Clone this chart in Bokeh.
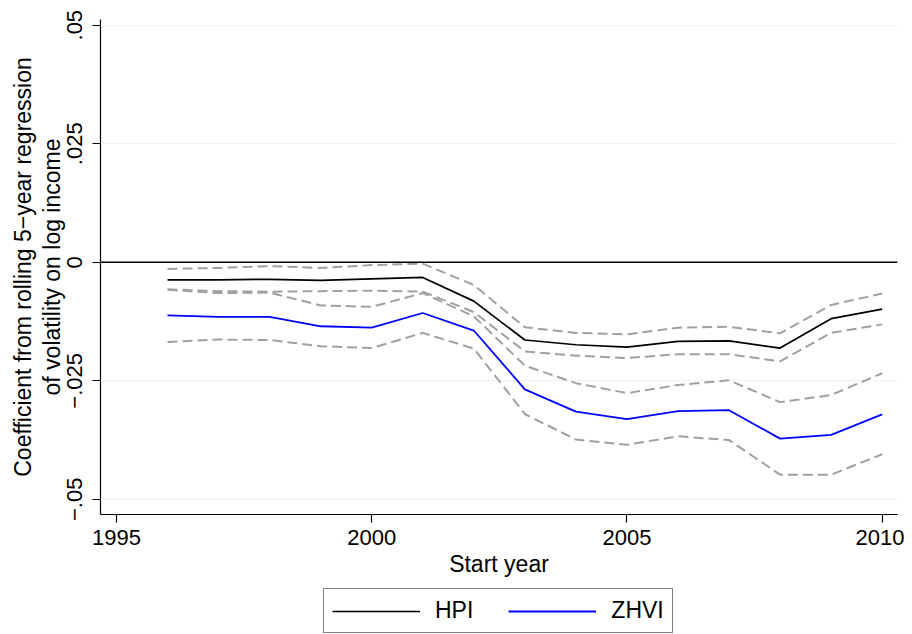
from bokeh.plotting import figure
from bokeh.layouts import column
from bokeh.models import (Range1d, FixedTicker, Span, Legend, LegendItem, ColumnDataSource)
from bokeh.embed import file_html
from bokeh.resources import INLINE

# ---- data ----
years = [1996, 1997, 1998, 1999, 2000, 2001, 2002, 2003, 2004, 2005, 2006, 2007, 2008, 2009, 2010]
hpi = [-0.0037, -0.0037, -0.0036, -0.0038, -0.0035, -0.0032, -0.0082, -0.0164, -0.0174, -0.0179,
       -0.0167, -0.0166, -0.0181, -0.0119, -0.0099]
hpi_hi = [-0.0014, -0.0012, -0.0008, -0.0012, -0.0006, -0.0003, -0.0048, -0.0137, -0.0149, -0.0152,
          -0.0138, -0.0136, -0.0150, -0.0090, -0.0066]
hpi_lo = [-0.0057, -0.0061, -0.0062, -0.0061, -0.0060, -0.0062, -0.0105, -0.0188, -0.0197, -0.0202,
          -0.0194, -0.0194, -0.0209, -0.0149, -0.0131]
zhvi = [-0.0112, -0.0115, -0.0115, -0.0135, -0.0138, -0.0107, -0.0144, -0.0268, -0.0315, -0.0331,
        -0.0314, -0.0312, -0.0372, -0.0364, -0.0321]
zhvi_hi = [-0.0058, -0.0065, -0.0064, -0.0091, -0.0094, -0.0065, -0.0114, -0.0218, -0.0255, -0.0276,
           -0.0259, -0.0249, -0.0295, -0.0280, -0.0234]
zhvi_lo = [-0.0168, -0.0163, -0.0164, -0.0177, -0.0181, -0.0149, -0.0182, -0.0320, -0.0374, -0.0385,
           -0.0367, -0.0375, -0.0448, -0.0448, -0.0405]

x_ticks = [1995, 2000, 2005, 2010]
y_ticks = [-0.05, -0.025, 0.0, 0.025, 0.05]
y_tick_labels = ["\u2212.05", "\u2212.025", "0", ".025", ".05"]
series_names = ["HPI", "ZHVI"]
x_title = "Start year"
y_title = "Coefficient from rolling 5\u2212year regression\nof volatility on log income"

FONT = "Liberation Sans"
HPI_COLOR, ZHVI_COLOR = "black", "#0000ff"

p = figure(width=904, height=584, output_backend="svg", toolbar_location=None,
           x_range=Range1d(1994.687, 2010.30), y_range=Range1d(-0.0532, 0.0512),
           min_border_left=100, min_border_right=7, min_border_top=19, min_border_bottom=70)
p.outline_line_color = None
p.background_fill_color = "white"
p.border_fill_color = "white"

# grid
p.xgrid.grid_line_color = None
p.ygrid.grid_line_color = "#eaf2f3"
p.ygrid.grid_line_width = 1.2

# axes
p.xaxis.ticker = FixedTicker(ticks=x_ticks)
p.yaxis.ticker = FixedTicker(ticks=y_ticks)
p.yaxis.major_label_overrides = {t: l for t, l in zip(y_ticks, y_tick_labels)}
p.xaxis.major_label_overrides = {t: str(t) for t in x_ticks}
for ax in (p.xaxis, p.yaxis):
    ax.axis_line_color = "black"
    ax.axis_line_width = 1.2
    ax.major_tick_line_color = "black"
    ax.major_tick_line_width = 1.2
    ax.major_tick_out = 8
    ax.major_tick_in = 0
    ax.minor_tick_line_color = None
    ax.major_label_text_font = FONT
    ax.major_label_text_font_size = "22px"
    ax.major_label_text_color = "black"
    ax.axis_label_text_font = FONT
    ax.axis_label_text_font_size = "23px"
    ax.axis_label_text_font_style = "normal"
    ax.axis_label_text_color = "black"
p.xaxis.major_label_standoff = 7
p.xaxis.axis_label_standoff = 3
p.yaxis.major_label_orientation = "vertical"
p.yaxis.major_label_standoff = 10
p.yaxis.axis_label_standoff = 0
p.yaxis.axis_label_text_line_height = 1.1
p.xaxis.axis_label = x_title
p.yaxis.axis_label = y_title

# zero line
p.add_layout(Span(location=0, dimension="width", line_color="black", line_width=1.6))

src = ColumnDataSource(dict(x=years, hpi=hpi, hpi_hi=hpi_hi, hpi_lo=hpi_lo,
                            zhvi=zhvi, zhvi_hi=zhvi_hi, zhvi_lo=zhvi_lo))

dash_kw = dict(line_color="#a0a0a0", line_width=2, line_dash="10 5")
for col in ("hpi_hi", "hpi_lo", "zhvi_hi", "zhvi_lo"):
    p.line("x", col, source=src, **dash_kw)

p.line("x", "hpi", source=src, line_color=HPI_COLOR, line_width=1.7)
p.line("x", "zhvi", source=src, line_color=ZHVI_COLOR, line_width=1.8)

# ---- legend strip below the chart (its lines lie outside the strip's ranges) ----
q = figure(width=904, height=50, output_backend="svg", toolbar_location=None,
           x_range=Range1d(0, 1), y_range=Range1d(0, 1), min_border=0,
           x_axis_location=None, y_axis_location=None)
q.outline_line_color = None
q.grid.visible = False
q.background_fill_color = "white"
q.border_fill_color = "white"
lh = q.line("x", "hpi", source=src, line_color=HPI_COLOR, line_width=1.7)
lz = q.line("x", "zhvi", source=src, line_color=ZHVI_COLOR, line_width=1.8)

legend = Legend(items=[LegendItem(label=series_names[0], renderers=[lh]),
                       LegendItem(label=series_names[1], renderers=[lz])],
                orientation="horizontal", location=(223, 1))
legend.label_text_font = FONT
legend.label_text_font_size = "23px"
legend.label_text_color = "black"
legend.glyph_width = 88
legend.glyph_height = 20
legend.label_standoff = 15
legend.spacing = 35
legend.padding = 8
legend.margin = 0
legend.border_line_color = "black"
legend.border_line_width = 1
legend.background_fill_color = "white"
legend.background_fill_alpha = 1
q.add_layout(legend)

open("out.html", "w").write(file_html(column(p, q, spacing=0), INLINE))
